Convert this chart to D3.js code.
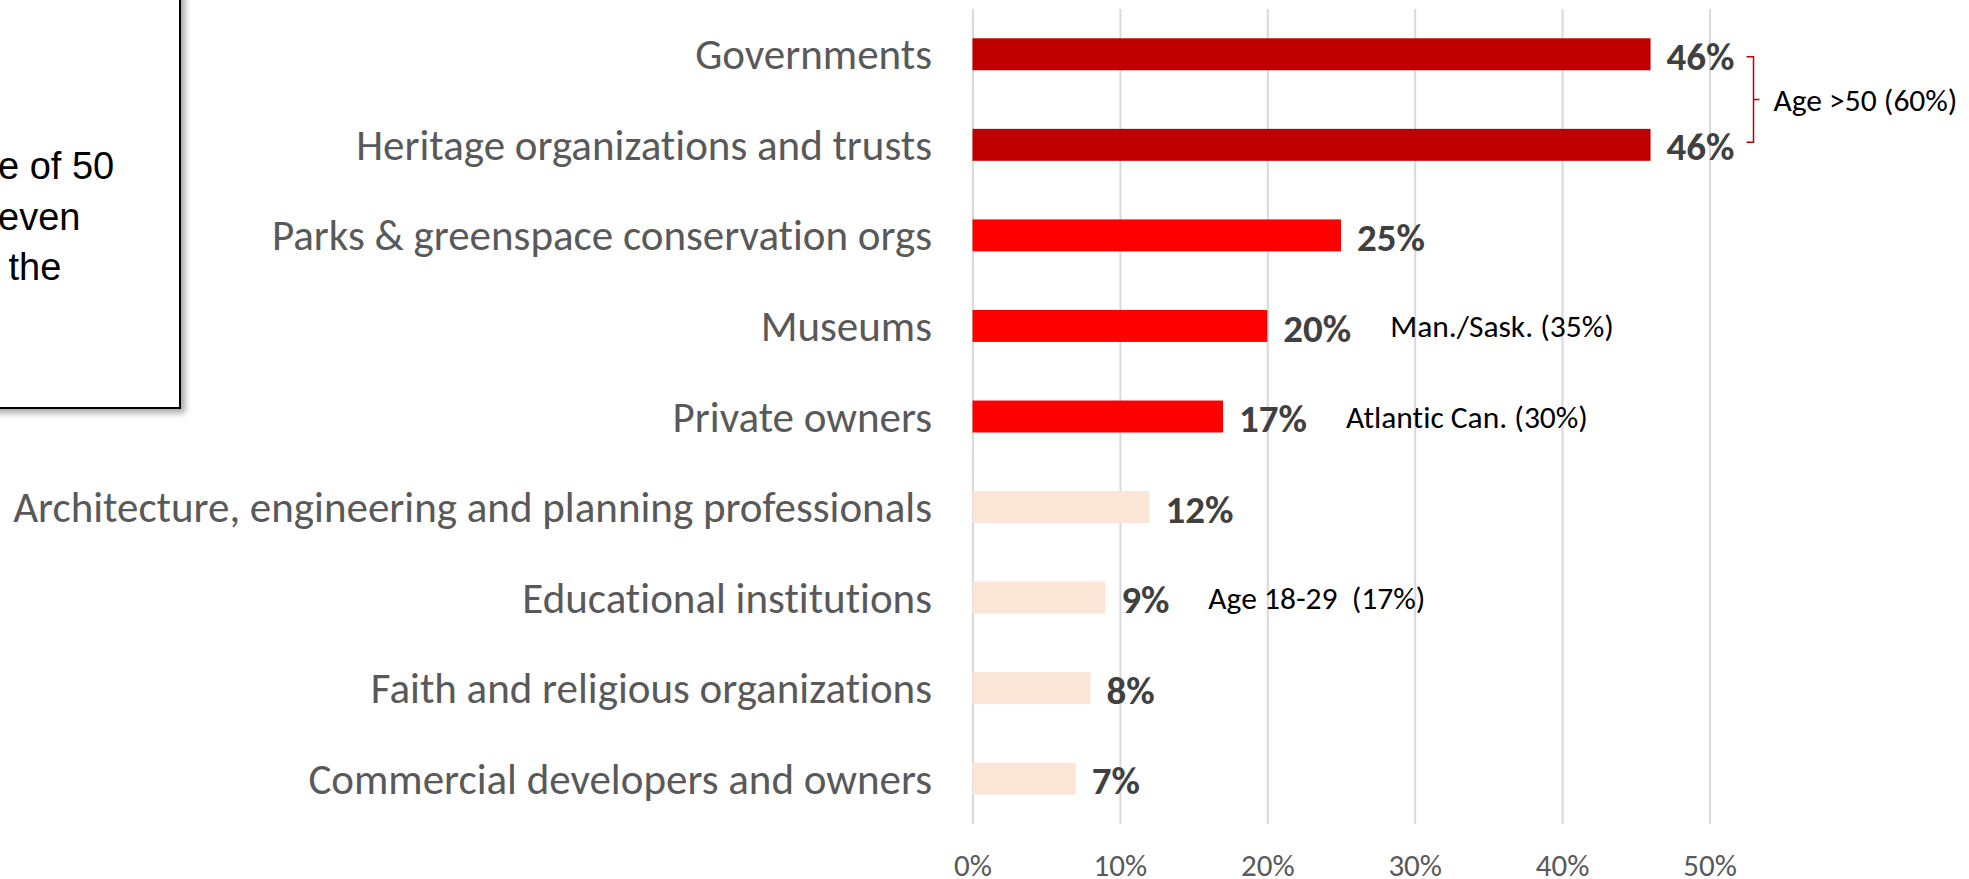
<!DOCTYPE html>
<html>
<head>
<meta charset="utf-8">
<script src="https://cdn.jsdelivr.net/npm/d3@7"></script>
<style>
  html, body { margin: 0; padding: 0; background: #ffffff; }
  svg { display: block; }
  text { white-space: pre; font-variant-ligatures: none; font-feature-settings: "liga" 0, "clig" 0; }
</style>
</head>
<body>
<svg id="chart" width="1969" height="879"></svg>
<script>
// Who should be responsible for heritage: share of respondents (%)
const categories = [
  "Governments",
  "Heritage organizations and trusts",
  "Parks & greenspace conservation orgs",
  "Museums",
  "Private owners",
  "Architecture, engineering and planning professionals",
  "Educational institutions",
  "Faith and religious organizations",
  "Commercial developers and owners"
];
const values = [46, 46, 25, 20, 17, 12, 9, 8, 7];
const xTicks = [0, 10, 20, 30, 40, 50];

// Sub-group call-outs shown beside individual bars
const noteCategories = ["Museums", "Private owners", "Educational institutions"];
const noteTexts = ["Man./Sask. (35%)", "Atlantic Can. (30%)", "Age 18-29  (17%)"];

// Call-out spanning the two top bars
const bracketCategories = ["Governments", "Heritage organizations and trusts"];
const bracketText = "Age >50 (60%)";

// Visible tail of the side text panel
const panelLines = ["e of 50", "even", " the"];

const svg = d3.select("#chart");
const labelFont = "Carlito, Calibri, Lato, 'Open Sans', sans-serif";

// Drop shadow for the side panel
const defs = svg.append("defs");
const shadow = defs.append("filter").attr("id", "panelShadow")
  .attr("x", "-10%").attr("y", "-10%").attr("width", "130%").attr("height", "130%");
shadow.append("feDropShadow")
  .attr("dx", 4).attr("dy", 4).attr("stdDeviation", 3)
  .attr("flood-color", "#000").attr("flood-opacity", 0.35);

// Side panel (extends past the left/top edge)
const panel = svg.append("g");
panel.append("rect")
  .attr("x", -30).attr("y", -30)
  .attr("width", 210).attr("height", 438)
  .attr("fill", "#ffffff")
  .attr("stroke", "#000000")
  .attr("stroke-width", 2)
  .attr("filter", "url(#panelShadow)");
panel.selectAll("text.panel")
  .data(panelLines)
  .join("text")
  .attr("class", "panel")
  .attr("x", -2)
  .attr("y", (d, i) => 179 + i * 50.5)
  .attr("font-family", "'Liberation Sans', Arial, sans-serif")
  .attr("font-size", 38)
  .attr("fill", "#000000")
  .text(d => d);

// Scales
const x = d3.scaleLinear().domain([0, 50]).range([972.5, 1709.5]);
const y = d3.scaleBand().domain(categories).range([9, 824])
  .paddingInner(0.647).paddingOuter(0.3235);
const yMid = c => y(c) + y.bandwidth() / 2;

const colour = d3.scaleThreshold()
  .domain([15, 40])
  .range(["#FBE5D6", "#FF0000", "#C00000"]);

// Vertical gridlines
const grid = svg.append("g")
  .attr("transform", "translate(0,824)")
  .call(d3.axisBottom(x).tickValues(xTicks).tickSize(-815).tickFormat(""));
grid.select(".domain").remove();
grid.selectAll("line").attr("stroke", "#D9D9D9").attr("stroke-width", 2);

// Tick labels
const axis = svg.append("g")
  .attr("transform", "translate(0,824)")
  .call(d3.axisBottom(x).tickValues(xTicks).tickSize(0).tickFormat(d => d + "%"));
axis.select(".domain").remove();
axis.selectAll("text")
  .attr("y", 52)
  .attr("dy", 0)
  .attr("font-family", labelFont)
  .attr("font-size", 31)
  .attr("fill", "#595959");

// Bars
const rows = categories.map((c, i) => ({ c, v: values[i] }));
svg.append("g").selectAll("rect")
  .data(rows)
  .join("rect")
  .attr("x", x(0))
  .attr("y", d => y(d.c))
  .attr("width", d => x(d.v) - x(0))
  .attr("height", y.bandwidth())
  .attr("fill", d => colour(d.v));

// Category labels
svg.append("g").selectAll("text")
  .data(rows)
  .join("text")
  .attr("x", 932)
  .attr("y", d => yMid(d.c))
  .attr("dy", "0.35em")
  .attr("text-anchor", "end")
  .attr("font-family", labelFont)
  .attr("font-size", 43)
  .attr("fill", "#595959")
  .text(d => d.c);

// Value labels
const valueLabels = svg.append("g").selectAll("text")
  .data(rows)
  .join("text")
  .attr("x", d => x(d.v) + 16)
  .attr("y", d => yMid(d.c))
  .attr("dy", "0.4em")
  .attr("font-family", labelFont)
  .attr("font-weight", 700)
  .attr("font-size", 39)
  .attr("fill", "#404040")
  .text(d => d.v + "%");

// End of each value label, used to place call-outs after it
const labelEnd = {};
valueLabels.each(function (d) {
  labelEnd[d.c] = x(d.v) + 16 + this.getComputedTextLength();
});

// Per-bar call-outs
svg.append("g").selectAll("text")
  .data(noteCategories.map((c, i) => ({ c, t: noteTexts[i] })))
  .join("text")
  .attr("x", d => labelEnd[d.c] + 39)
  .attr("y", d => yMid(d.c))
  .attr("dy", "0.36em")
  .attr("font-family", labelFont)
  .attr("font-size", 31.5)
  .attr("fill", "#000000")
  .text(d => d.t);

// Bracket call-out across the top two bars
const bTop = yMid(bracketCategories[0]) + 2.5;
const bBot = yMid(bracketCategories[1]) - 2.5;
const bMid = (bTop + bBot) / 2;
const bx = d3.max(bracketCategories, c => labelEnd[c]) + 19;
svg.append("path")
  .attr("d", `M${bx - 7},${bTop}H${bx}V${bBot}H${bx - 7}M${bx},${bMid}H${bx + 6}`)
  .attr("fill", "none")
  .attr("stroke", "#C00000")
  .attr("stroke-width", 1.5);
svg.append("text")
  .attr("x", bx + 20)
  .attr("y", bMid)
  .attr("dy", "0.36em")
  .attr("font-family", labelFont)
  .attr("font-size", 31.5)
  .attr("fill", "#000000")
  .text(bracketText);
</script>
</body>
</html>
